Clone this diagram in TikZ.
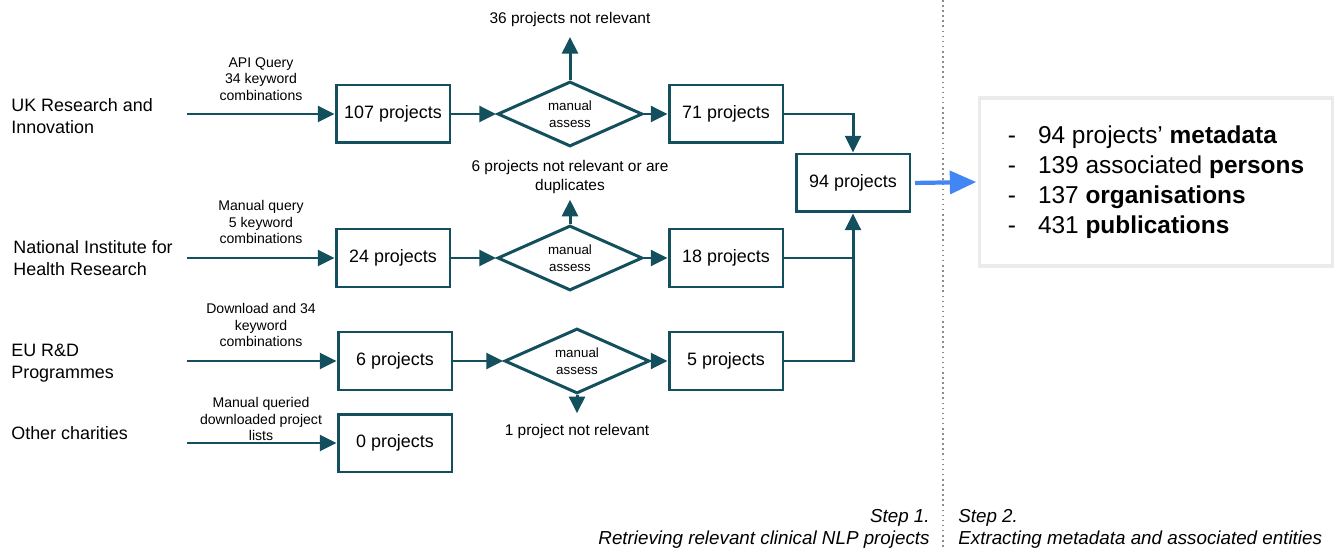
\documentclass[tikz,border=0pt]{standalone}
\usepackage{fontspec}
\setmainfont{Liberation Sans}
\usepackage{tikz}
\usetikzlibrary{shapes,arrows.meta}
\definecolor{flow}{HTML}{134F5C}
\definecolor{gblue}{HTML}{4285F4}

\begin{document}
\begin{tikzpicture}[x=0.02cm,y=-0.02cm]

	\tikzstyle{source}=[anchor=west,align=left,inner sep=0pt,font=\fontsize{10.2}{12.5}\selectfont]
	\tikzstyle{query}=[align=center,inner sep=0pt,font=\fontsize{8}{9.4}\selectfont]
	\tikzstyle{count}=[draw=flow,line width=1.7pt,rectangle,minimum width=2.28cm,minimum height=1.16cm,font=\fontsize{10.2}{12}\selectfont]
	\tikzstyle{assess}=[draw=flow,line width=1.7pt,diamond,aspect=2.2,inner sep=0pt,minimum width=2.9cm,minimum height=1.3cm,align=center,font=\fontsize{7.6}{9.6}\selectfont]
	\tikzstyle{reject}=[align=center,font=\fontsize{8.8}{10.5}\selectfont]
	\tikzstyle{flowline}=[draw=flow,line width=1.7pt]
	\tikzstyle{flowarrow}=[flowline,-{Triangle[length=9.5pt,width=9pt]}]
	\tikzstyle{outbox}=[draw=black!8,line width=1.8pt,fill=white,minimum width=7.06cm,minimum height=3.36cm,align=left,font=\fontsize{13.9}{17}\selectfont]
	\tikzstyle{stagelabel}=[align=right,inner sep=0pt,font=\fontsize{10.7}{12.5}\selectfont\itshape]

	\useasboundingbox (0,0) rectangle (1341,550);

	% sources
	\node[source] (uk) at (11,116) {UK Research and\\Innovation};
	\node[source] (nihr) at (13,258) {National Institute for\\Health Research};
	\node[source] (eu) at (11,363) {EU R\&D\\Programmes};
	\node[source] (other) at (11,433) {Other charities};

	\coordinate (in1) at (187,114);
	\coordinate (in2) at (187,258);
	\coordinate (in3) at (187,361);
	\coordinate (in4) at (187,443);

	\node[query] (q1) at (261,79) {API Query\\34 keyword\\combinations};
	\node[query] (q2) at (261,222) {Manual query\\5 keyword\\combinations};
	\node[query] (q3) at (261,325) {Download and 34\\keyword\\combinations};
	\node[query] (q4) at (261,419) {Manual queried\\downloaded project\\lists};

	% retrieved projects
	\node[count] (b107) at (393,114) {107 projects};
	\node[count] (b24) at (393,258) {24 projects};
	\node[count] (b6) at (395,361) {6 projects};
	\node[count] (b0) at (395,443) {0 projects};

	\node[assess] (d1) at (570,114) {manual\\assess};
	\node[assess] (d2) at (570,258) {manual\\assess};
	\node[assess] (d3) at (577,361) {manual\\assess};

	\node[reject] (r1) at (570,20) {36 projects not relevant};
	\node[reject] (r2) at (570,177) {6 projects not relevant or are\\duplicates};
	\node[reject] (r3) at (577,432) {1 project not relevant};

	\node[count] (b71) at (726,114) {71 projects};
	\node[count] (b18) at (726,258) {18 projects};
	\node[count] (b5) at (726,361) {5 projects};
	\node[count] (b94) at (853,183) {94 projects};

	\draw[flowarrow] (in1) -- (b107);
	\draw[flowarrow] (in2) -- (b24);
	\draw[flowarrow] (in3) -- (b6);
	\draw[flowarrow] (in4) -- (b0);

	\draw[flowarrow] (b107) -- (d1);
	\draw[flowarrow] (b24) -- (d2);
	\draw[flowarrow] (b6) -- (d3);

	\draw[flowarrow] (d1) -- (b71);
	\draw[flowarrow] (d2) -- (b18);
	\draw[flowarrow] (d3) -- (b5);

	\draw[flowarrow,shorten >=2pt] (d1.north) -- (r1.south);
	\draw[flowarrow] (d2.north) -- (r2.south);
	\draw[flowarrow,shorten >=3pt] (d3.south) -- (r3.north);

	% merge into 94
	\draw[flowarrow] (b71.east) -| (b94.north);
	\draw[flowline] (b18.east) -- (b18.east -| b94.south);
	\draw[flowarrow] (b5.east) -| (b94.south);

	% step 2
	\draw[black!45,dotted,line width=0.9pt] (943,0) -- (943,550);

	\node[outbox] (facts) at (1156,182) {-\hspace{0.44cm}94 projects' \textbf{metadata}\\-\hspace{0.44cm}139 associated \textbf{persons}\\-\hspace{0.44cm}137 \textbf{organisations}\\-\hspace{0.44cm}431 \textbf{publications}};

	\draw[gblue,line width=2.4pt,-{Triangle[length=15pt,width=13pt]},shorten <=2pt,shorten >=1pt] (b94.east) -- (facts.west);

	\node[stagelabel,anchor=east] (s1) at (930,529) {Step 1.\\Retrieving relevant clinical NLP projects};
	\node[stagelabel,anchor=west,align=left] (s2) at (958,529) {Step 2.\\Extracting metadata and associated entities};

\end{tikzpicture}
\end{document}
